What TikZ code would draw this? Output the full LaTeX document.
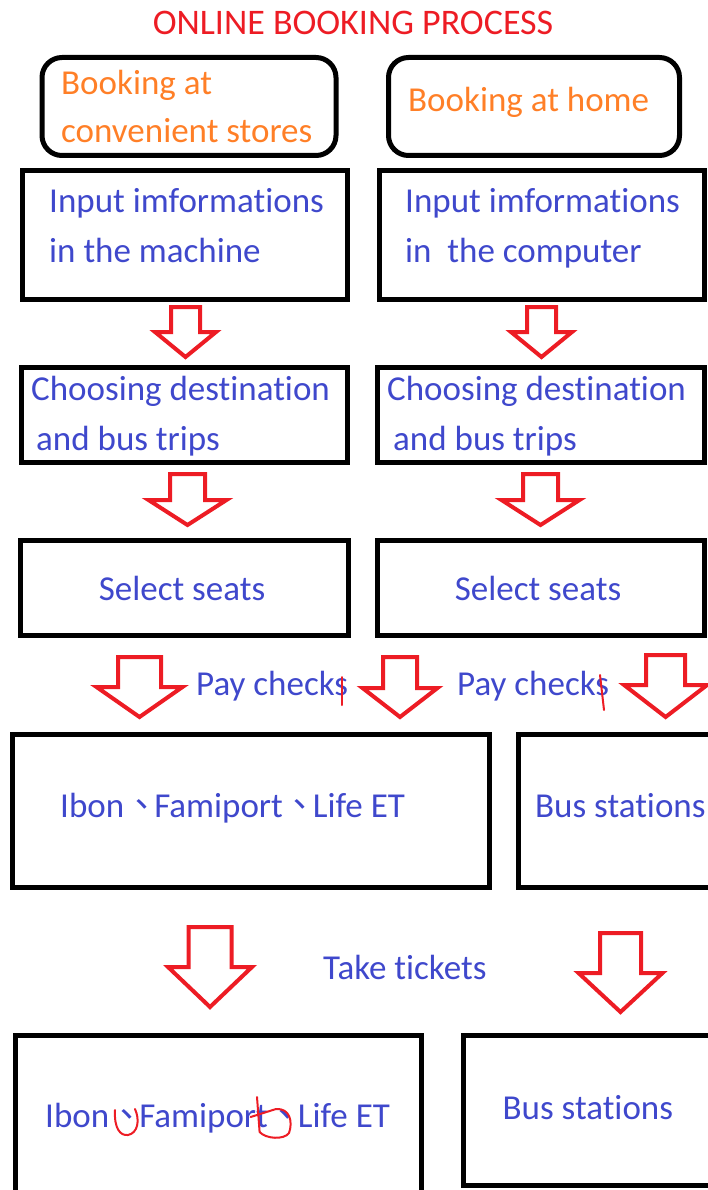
\documentclass[tikz,border=0pt]{standalone}
\usepackage{fontspec}
\setmainfont{Carlito}[Ligatures={NoCommon,NoContextual}]
\newfontfamily\cjk{Noto Sans CJK TC}
\usetikzlibrary{positioning}
\definecolor{titlered}{RGB}{237,28,36}
\definecolor{bookorange}{RGB}{255,127,39}
\definecolor{stepblue}{RGB}{63,72,204}

\tikzset{
  stepbox/.style={draw=black, line width=5pt, rectangle, inner sep=0pt},
  roundbox/.style={stepbox, rounded corners=20pt},
  bluetext/.style={text=stepblue, inner sep=0pt, font=\fontsize{35}{42}\selectfont},
  orangetext/.style={bluetext, text=bookorange},
  arrowline/.style={draw=titlered, line width=4pt, fill=white, line join=miter},
  scribble/.style={draw=titlered, line width=2pt, line cap=round},
  pics/blockarrow/.style n args={4}{code={
    \draw[arrowline] (-#1,0) -- (#1,0) -- (#1,#4) -- (#2,#4) -- (0,#3) -- (-#2,#4) -- (-#1,#4) -- cycle;
  }}
}
\newcommand{\dun}{{\cjk 、}\kern-5pt}

\begin{document}
\begin{tikzpicture}[x=1pt, y=-1pt]
       \useasboundingbox (0,0) rectangle (708,1190);
       \clip (0,0) rectangle (708,1190);

       %Title
       \node[bluetext, text=titlered, anchor=base, font=\fontsize{36}{42}\selectfont] (Title) at (353,35) {ONLINE BOOKING PROCESS};

       %Booking places
       \node[roundbox, minimum width=294, minimum height=98] (Store) at (189,106.5) {};
       \node[roundbox, minimum width=291, minimum height=98] (Home) at (534,106.5) {};
       \node[orangetext, anchor=base west] (StoreA) at (61,95) {Booking at};
       \node[orangetext, anchor=base west] (StoreB) at (61,143) {convenient stores};
       \node[orangetext, anchor=base west] (HomeA) at (408,112) {Booking at home};

       %Input step
       \node[stepbox, minimum width=325, minimum height=129] (InputL) at (185,235) {};
       \node[stepbox, minimum width=324.5, minimum height=129] (InputR) at (541.75,235) {};
       \node[bluetext, anchor=base west] (InputLA) at (49,213) {Input imformations};
       \node[bluetext, anchor=base west] (InputLB) at (49,262) {in the machine};
       \node[bluetext, anchor=base west] (InputRA) at (405,213) {Input imformations};
       \node[bluetext, anchor=base west] (InputRB) at (405,262) {in\ \ the computer};

       %Choosing step
       \node[stepbox, minimum width=326, minimum height=95] (ChooseL) at (184.5,415) {};
       \node[stepbox, minimum width=326.5, minimum height=95] (ChooseR) at (540.75,415) {};
       \node[bluetext, anchor=base west] (ChooseLA) at (31,400) {Choosing destination};
       \node[bluetext, anchor=base west] (ChooseLB) at (36,450) {and bus trips};
       \node[bluetext, anchor=base west] (ChooseRA) at (387,400) {Choosing destination};
       \node[bluetext, anchor=base west] (ChooseRB) at (393,450) {and bus trips};

       %Seats step
       \node[stepbox, minimum width=328, minimum height=95] (SeatL) at (184.5,588) {};
       \node[stepbox, minimum width=326.5, minimum height=95] (SeatR) at (540.75,588) {};
       \node[bluetext, anchor=base] (SeatLA) at (182,600) {Select seats};
       \node[bluetext, anchor=base] (SeatRA) at (538,600) {Select seats};

       %Paying places
       \node[bluetext, anchor=base west] (PayA) at (196,695) {Pay checks};
       \node[bluetext, anchor=base west] (PayB) at (457,695) {Pay checks};
       \node[stepbox, minimum width=477, minimum height=153] (Kiosk) at (251,811) {};
       \node[stepbox, minimum width=202, minimum height=153] (Station) at (619,811) {};
       \node[bluetext, anchor=base west] (KioskA) at (60,817) {Ibon\dun Famiport\dun Life ET};
       \node[bluetext, anchor=base west] (StationA) at (535,817) {Bus stations};

       %Ticket places
       \node[bluetext, anchor=base west] (Take) at (323,979) {Take tickets};
       \node[stepbox, minimum width=406, minimum height=165] (KioskT) at (218,1117.5) {};
       \node[stepbox, minimum width=257, minimum height=150] (StationT) at (591.5,1110) {};
       \node[bluetext, anchor=base west] (KioskTA) at (45,1127) {Ibon\dun Famiport\dun Life ET};
       \node[bluetext, anchor=base west] (StationTA) at (502.5,1119) {Bus stations};

       %Drawing arrows
       \pic (ArrInL) at (185.5,307) {blockarrow={14.5}{30.5}{50}{25}};
       \pic (ArrInR) at (541.5,307) {blockarrow={14.5}{30.5}{50}{25}};
       \pic (ArrChL) at (187.5,474) {blockarrow={17.5}{39}{51}{26}};
       \pic (ArrChR) at (540.5,474) {blockarrow={17.5}{39}{51}{26}};
       \pic (ArrPayA) at (139.5,657) {blockarrow={21.5}{43}{60}{30}};
       \pic (ArrPayB) at (400,657) {blockarrow={17}{37.5}{60}{31}};
       \pic (ArrPayC) at (665.6,655) {blockarrow={19.5}{41.5}{62}{30}};
       \pic (ArrTakeL) at (210,927) {blockarrow={21.5}{42}{80}{40}};
       \pic (ArrTakeR) at (620.5,933) {blockarrow={20.5}{42}{79}{40}};

       %Red marks
       \draw[scribble] (342,677) -- (342,705);
       \draw[scribble] (600,675) -- (604,710);
       \draw[scribble] (115,1110) .. controls (114,1128) and (120,1136) .. (128,1135) .. controls (138,1133) and (140,1120) .. (135,1109);
       \draw[scribble] (257,1097) -- (259.6,1132);
       \draw[scribble] (250.6,1117) -- (276,1109) .. controls (290,1108) and (293,1122) .. (289,1133) .. controls (284,1140) and (266,1139) .. (259.6,1132);
\end{tikzpicture}
\end{document}
